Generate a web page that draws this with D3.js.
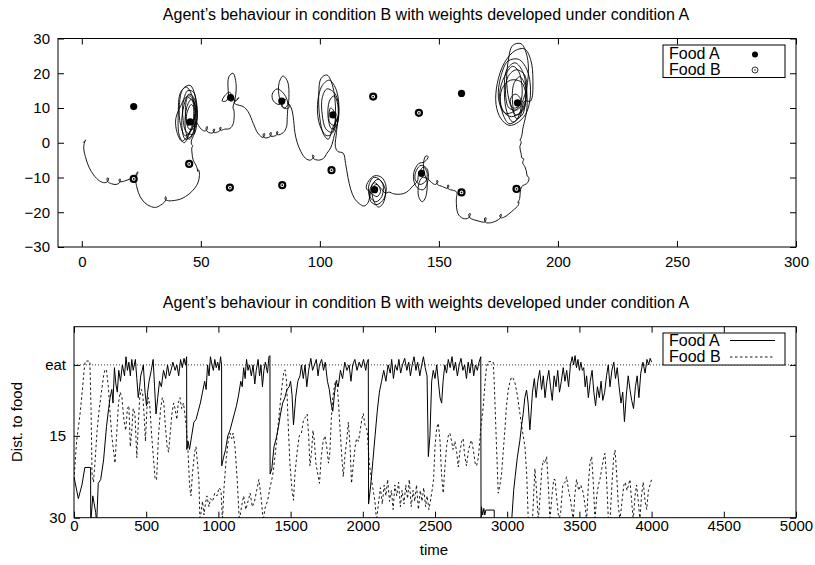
<!DOCTYPE html>
<html>
<head>
<meta charset="utf-8">
<script src="https://cdn.jsdelivr.net/npm/d3@7"></script>
<style>
	body { margin: 0; background: #fff; }
	svg text { font-family: "Liberation Sans", Arial, sans-serif; font-size: 15px; fill: #000; }
	svg text.big { font-size: 16px; }
</style>
</head>
<body>
<div id="chart"></div>
<script>

// ---- data ----

let titleText = "Agent\u2019s behaviour in condition B with weights developed under condition A";
let seriesNames = ["Food A", "Food B"];

// top plot: food positions (x, y)
let foodA = [[21.8, 10.4], [45.5, 6], [62.5, 13], [84, 12], [105.5, 8], [123, -13.5], [142.7, -8.8], [159.5, 14.2], [183, 11.5]];
let foodB = [[21.8, -10.4], [45.1, -6.1], [62.2, -12.9], [84.2, -12.2], [104.9, -7.9], [122.4, 13.3], [141.6, 8.6], [159.5, -14.3], [182.6, -13.3]];

// top plot: agent trajectory (x, y)
let trajectory = [
	[0.5, 0], [1.7, 0.8], [1.2, 0.2], [0.8, -1.5], [1.5, -4], [3, -7], [5, -9.3], [7.5, -11], [9.5, -11.5],
	[10.8, -11.2], [11.2, -10.2], [10.6, -10.2], [10.9, -11.2], [12.5, -11.8], [14.5, -12],
	[15.8, -11.5], [16.2, -10.5], [15.6, -10.6], [16, -11.2], [18, -11], [20, -10.5],
	[21.8, -10.4], [23, -9.5], [23.6, -8.4], [23.1, -8.6], [22.6, -10.3], [23.2, -13], [24.5, -15.5],
	[26.5, -17.3], [28.8, -18.3], [31, -18.6], [33, -18], [34.8, -17], [35.5, -16], [35.2, -15.5],
	[35, -16.3], [36.5, -16.7], [39, -16.6], [41.5, -16.2], [43.5, -15.5], [45.5, -14.5], [47.5, -13],
	[48.8, -11.5], [49.4, -9.5], [49.2, -8], [48.6, -7.6], [48.8, -8.3], [48, -6.5], [46.8, -5],
	[46.3, -3], [46.2, -1.5], [46.6, -0.8], [46.1, -0.5], [46, 0.5],
	// cluster around (45.5, 6)
	[48, 4], [48, 10], [46, 12.5], [44, 10], [43.5, 4], [45, 1],
	[47, 3], [48.5, 8], [47, 13], [45, 14], [43, 11], [42, 5], [43.5, 1], [46, 2],
	[47.5, 5], [47.5, 11], [44, 16], [41.5, 14.5], [40.5, 8], [41, 2], [43, 0], [45.5, 3],
	[48.3, 7], [47.8, 13], [45.5, 16.5], [42.5, 15.5], [41, 11], [41.5, 5], [43.5, 2], [46.5, 4.5],
	[47.5, 10], [45.5, 13.5], [43, 12.5], [42.5, 7], [44, 3], [47, 2.5],
	[47, 7], [46.5, 12], [44.5, 13], [43.5, 9], [44.5, 5], [46, 6],
	[47.8, 8], [47, 14.5], [44.5, 15], [42.5, 12], [39.5, 7], [40, 3], [42, 0.5], [44.5, 2],
	[47.5, 9], [46, 11], [44, 8], [45, 4], [47, 4], [48, 6], [49, 5], [50, 4],
	// to cluster around (62.5, 13)
	[51.5, 3.4], [52.4, 3.6], [52.8, 4.6], [52.2, 4.4], [52.6, 3.3], [54, 2.8], [55.2, 2.9], [55.8, 3.9],
	[55.2, 3.8], [55.6, 2.9], [57, 3.1], [57.9, 3.4], [58.5, 4.4], [57.9, 4.3], [58.3, 3.6], [60, 3.9],
	[62.2, 4.1], [63.6, 5.5], [63.9, 9.4],
	[63.5, 10], [64.5, 13], [64.8, 17], [63.5, 20], [61.8, 19], [61.5, 15], [62.5, 12], [64, 12.5],
	[62, 14.5], [60, 13.5], [59, 12], [60.5, 12], [62.5, 13.5], [64.5, 12], [66, 13], [64, 11.5], [65, 11],
	// to cluster around (84, 12)
	[67.8, 10.4], [69.9, 8.9], [72, 5.6], [74, 2.7], [76.2, 1.5], [76.8, 2.6], [76.2, 2.5], [76.6, 1.5],
	[79, 1.7], [79.6, 2.9], [79, 2.8], [79.4, 1.9], [81.8, 2.2], [82.3, 3.2], [81.8, 3.1], [82.2, 2.3],
	[84.6, 2.9], [86, 4.6], [86.3, 7.5],
	[86.5, 9.5], [87, 13], [86.5, 17.5], [84.5, 19.2], [82.8, 17], [83, 13], [85, 10], [86.5, 11],
	[85, 14], [82, 15.5], [80, 14], [80.5, 12], [83, 11], [85.5, 12.5], [84, 10.5], [86, 9.8],
	[87.5, 10.5], [86.5, 11.5], [88, 10],
	// to cluster around (105.5, 8)
	[88.8, 7.5], [89.5, 3], [90.5, 0], [92, -2.5], [94, -4.5], [96, -5], [97.5, -4], [97, -3.5],
	[97.2, -4.5], [99.5, -5], [101.5, -4.5], [103, -3], [104.5, -1.5], [105.5, 0.5], [106, 2],
	[107.5, 6], [107.5, 11], [106, 13.5], [104, 12], [103.5, 7], [105, 4], [107, 5], [108, 9],
	[106.5, 14], [103, 15.5], [101, 13], [101, 8], [102.5, 4], [105, 3], [106.5, 7], [105.5, 16],
	[103, 19.5], [100.5, 18.5], [99.5, 13], [100, 7], [101.5, 2.5], [103.5, 1], [105.5, 4.5],
	[107.8, 8], [107, 15], [104, 18], [101, 16.5], [99, 11], [100, 5], [103, 2], [106, 3.5],
	[106, 9], [104.5, 10], [104, 6], [106, 5], [107.5, 7.5], [107, 3], [106.5, -1], [107.5, -2.5],
	// to cluster around (123.5, -13.5)
	[109.8, -3], [110.8, -6], [111.8, -10], [113, -13.5], [114.5, -16], [116.5, -17.5], [118.5, -18.2],
	[120, -17.5], [121, -15.5],
	[122, -12], [124.5, -10.5], [126.5, -12], [126, -15.5], [123.5, -17], [121, -15.5], [120.5, -12.5],
	[122.5, -10], [125, -10.5], [127.5, -13.5], [126.5, -17.5], [124.5, -18.5], [122.5, -16.5],
	[122, -13], [124, -12], [125.5, -14], [124, -15.5], [121.5, -14.5], [119.5, -13], [120.5, -11],
	[123, -9.5], [126, -10], [127.8, -12.5], [127, -16], [124, -17.8], [121.5, -17], [120.8, -14],
	[123, -11.5], [125.5, -13], [127.5, -14.5], [129, -14.2], [131, -14.7],
	// to cluster around (142.7, -8.8)
	[134, -14.8], [136.5, -14.2], [139, -12.5], [141, -11],
	[141.5, -9], [143.5, -7], [145, -8.5], [144.5, -11], [142, -12], [140, -10.5], [140.5, -8],
	[142.5, -6.5], [145, -7.5], [145.5, -10.5], [143.5, -13.5], [141, -13], [139.5, -11], [139.5, -8.5],
	[141.5, -6], [144, -5.5], [145.5, -4], [144.5, -3.8], [143.5, -6], [144, -9], [145, -11],
	[144.5, -15.5], [143, -17], [141.5, -15.5], [141.5, -12], [143, -10], [145.5, -10.5], [147, -11.5],
	[148.5, -12],
	// loop down and round to cluster around (183, 12)
	[149.6, -11.2], [149.2, -10.8], [149.4, -12], [151.5, -12.6], [153.5, -13.1], [154.2, -12.3],
	[153.7, -12.2], [154, -13.3], [156, -13.7], [157.5, -14.2], [157.3, -16.5], [158, -20.4],
	[160.2, -21.8], [162.5, -21.6], [163.2, -20.4], [162.6, -20.5], [163, -21.6], [166.5, -22.5],
	[169.3, -22.8], [169.8, -21.6], [169.2, -21.7], [169.6, -22.9], [172, -23], [175.6, -21.8],
	[176.2, -20.6], [175.6, -20.8], [176, -21.6], [177.7, -21.3], [181.2, -19.4], [183.3, -18],
	[183.6, -17], [183.1, -17.2], [183.8, -16.4], [184, -15.6], [184.7, -12.7], [187.3, -11.5],
	[187.8, -10], [187.1, -9.6], [186.8, -8.4], [186.1, -6.9], [185.2, -5.8], [185.6, -4.6],
	[184.9, -4.4], [184.5, -3], [184, -1.2], [184.6, 0.3], [184.1, 0.6], [184.7, 1.7], [185.4, 4.6],
	[186.1, 6.5],
	[187, 10], [186.5, 16], [184, 19], [181.5, 17], [181, 11], [182.5, 7], [185, 8], [186.5, 13],
	[185.5, 20], [182, 23], [178.5, 21], [177.5, 15], [178.5, 9], [181, 6], [184, 7.5], [186, 12],
	[188.5, 12], [189.5, 18], [188.5, 24], [186, 27], [182, 26.5], [177.5, 23], [174.5, 17], [174, 11],
	[176, 7], [179.5, 5], [183.5, 6], [187, 9], [188.5, 15], [187, 21], [183.5, 24], [179, 23.5],
	[176, 19], [175, 13], [177, 9], [180.5, 7.5], [184.5, 9], [186.8, 14], [186, 19.5], [182.5, 21],
	[179, 19], [178, 14], [179.5, 10], [183, 9.5], [185.5, 12.5],
	[187.5, 19], [187, 25], [184.5, 28.5], [181, 28], [179, 23], [178.5, 17], [180, 11], [182.5, 8],
	[185.5, 9.5], [186.5, 14], [184.5, 17.5], [180, 18], [176.5, 15.5], [176, 11], [178, 8.5],
	[181.5, 9], [184, 11], [185, 15], [183.5, 20.5], [181, 22], [177.5, 19], [175.5, 14], [177, 8],
	[179.5, 5.5], [182.5, 6.5], [184.5, 10], [184, 13], [182, 14], [180, 12.5], [181, 10],
	[183.5, 10.5], [184.5, 12]
];

// bottom plot: distance to food over time (time, distance)
let foodATrace = [
	[0, 22.5], [30, 26.5], [55, 24], [75, 20.8], [115, 20.8], [116, 31], [130, 26], [150, 29], [157, 31],
	[168, 23.7], [185, 23], [205, 19.4], [225, 13.3], [240, 10], [250, 8], [262, 6.5], [270, 9],
	[280, 2.5], [290, 5.5], [300, 7], [310, 3], [322, 5], [335, 2], [350, 4], [360, 0.5], [370, 3],
	[380, 1.5], [390, 4], [400, 1], [410, 3], [425, 1], [435, 4.5], [445, 8], [455, 6], [462, 4],
	[472, 3], [480, 2], [492, 7], [502, 9.5], [510, 7], [520, 5], [535, 3], [548, 1], [558, 6],
	[568, 11], [580, 8], [592, 5], [605, 6], [620, 3], [635, 4.5], [648, 2], [660, 4], [672, 3],
	[685, 1.5], [700, 3], [712, 2], [725, 4], [738, 1], [750, 2.5], [762, 0.8], [772, 2], [780, 0.5],
	[781, 17.5], [790, 16], [800, 17.5], [815, 15], [830, 12.5], [845, 12], [860, 10.5], [875, 9],
	[890, 7], [905, 5], [915, 6.5], [925, 2], [935, 4], [945, 0.5], [955, 2], [965, 3], [975, 1],
	[985, 2.5], [995, 1.5], [1005, 3], [1015, 0.5], [1022, 2], [1023, 20.5], [1035, 19], [1050, 17.5],
	[1065, 15], [1080, 14], [1095, 12.5], [1110, 11], [1125, 9.5], [1140, 7.5], [1155, 5], [1165, 6],
	[1175, 2.5], [1185, 4.5], [1195, 1], [1205, 3], [1215, 2], [1228, 4], [1240, 2], [1252, 5.5],
	[1262, 3], [1275, 1], [1285, 4], [1295, 2], [1305, 6], [1315, 3], [1325, 1.5], [1340, 3.5],
	[1350, 0.5], [1357, 0.3], [1358, 22], [1370, 21], [1385, 17], [1400, 15.5], [1415, 13.5],
	[1430, 11], [1445, 9], [1460, 8], [1475, 6.5], [1490, 6], [1500, 5], [1510, 7.5], [1520, 13],
	[1535, 8], [1550, 5], [1565, 4], [1575, 2], [1588, 4.5], [1600, 2], [1612, 6], [1625, 3],
	[1640, 0.8], [1652, 3], [1665, 2], [1678, 1], [1690, 4], [1700, 2], [1715, 1], [1728, 3],
	[1740, 1.5], [1755, 5], [1768, 6.5], [1780, 9], [1792, 10.5], [1805, 7], [1815, 5], [1830, 6],
	[1845, 3], [1860, 4.5], [1875, 1.5], [1890, 3], [1905, 2], [1918, 5], [1930, 2], [1945, 1],
	[1960, 3], [1975, 1.5], [1990, 2.5], [2005, 1], [2020, 3], [2030, 1.5], [2038, 1], [2040, 27.5],
	[2055, 24], [2070, 19.5], [2085, 15], [2100, 10.5], [2115, 7], [2130, 5], [2145, 3], [2160, 5],
	[2175, 2], [2190, 3.5], [2200, 1], [2212, 4.5], [2225, 2], [2238, 3], [2250, 1], [2262, 3.5],
	[2275, 2], [2290, 0.8], [2305, 3], [2318, 1.5], [2330, 4], [2342, 2], [2355, 0.5], [2368, 3],
	[2380, 1.5], [2395, 4], [2408, 2], [2420, 0.5], [2432, 2.5], [2445, 4], [2454, 18.8], [2465, 15],
	[2477, 5], [2488, 3], [2500, 4.5], [2512, 2], [2525, 5.5], [2535, 8], [2546, 9], [2556, 5],
	[2568, 2], [2580, 3.5], [2592, 1], [2605, 2.5], [2618, 0.5], [2630, 3], [2642, 1.5], [2655, 4],
	[2668, 2], [2680, 0.8], [2693, 3], [2705, 2], [2718, 4.5], [2730, 1.5], [2742, 3.5], [2755, 1],
	[2768, 4], [2780, 2], [2793, 3], [2805, 1.5], [2817, 0.5], [2819, 31], [2822, 28], [2830, 29.5],
	[2838, 28.3], [2845, 29.5], [2852, 28.6], [2910, 28.6], [2911, 33], [3000, 33], [3031, 30.5],
	[3045, 25], [3055, 22.5], [3070, 19], [3088, 15.8], [3100, 13], [3111, 10.9], [3122, 8],
	[3134, 6.6], [3145, 9], [3157, 13.9], [3165, 11], [3175, 7], [3188, 4.5], [3200, 8], [3212, 5],
	[3225, 3], [3238, 6.5], [3250, 4], [3262, 8], [3275, 5], [3288, 3], [3300, 6], [3312, 8.5],
	[3325, 4], [3338, 6], [3350, 3], [3362, 7], [3375, 5], [3388, 2.5], [3400, 5], [3412, 3],
	[3425, 6], [3438, 2], [3450, 0.5], [3460, 2], [3470, 0.3], [3480, 2.5], [3490, 1], [3500, 3],
	[3510, 1.5], [3520, 3], [3530, 2.5], [3540, 6], [3550, 4], [3562, 8], [3575, 5], [3588, 3],
	[3600, 7], [3612, 9.5], [3625, 6], [3638, 8], [3650, 5], [3662, 8.5], [3675, 7], [3688, 4],
	[3700, 2], [3712, 6], [3725, 3], [3738, 1.5], [3750, 4.5], [3762, 2.5], [3775, 6], [3788, 9],
	[3800, 7], [3812, 12.4], [3825, 7.5], [3838, 4], [3850, 6.5], [3862, 8.5], [3875, 10], [3888, 6],
	[3900, 4], [3912, 8], [3925, 3.5], [3940, 1.5], [3955, 3.5], [3968, 1], [3980, 2], [3990, 0.8],
	[4000, 1.5]
];

let foodBTrace = [
	[0, 23], [18, 16], [42, 11], [60, 6], [70, 3], [78, 1.3], [110, 1.3], [118, 10], [125, 22],
	[135, 23.5], [145, 20], [160, 14], [175, 10], [190, 7], [205, 4], [215, 2.8], [225, 3], [238, 6],
	[250, 11], [262, 15], [275, 18], [284, 20], [295, 15], [308, 9], [320, 7], [332, 8], [345, 12],
	[358, 14], [370, 10], [380, 9.5], [390, 17], [400, 14], [410, 10], [422, 11], [435, 19], [445, 13],
	[455, 8], [465, 6.5], [475, 7], [485, 11], [495, 16], [505, 10], [515, 8], [525, 9.5], [538, 15],
	[550, 19], [562, 23], [572, 23], [585, 15], [600, 10], [612, 8], [622, 9], [632, 13], [645, 17],
	[655, 18], [665, 15], [678, 11], [690, 9], [700, 10], [712, 12], [722, 9], [734, 8], [745, 10],
	[758, 9], [768, 11], [780, 14], [790, 18], [800, 24], [810, 26], [820, 22], [835, 18], [845, 17],
	[855, 20], [865, 23], [872, 30.5], [880, 29], [890, 27], [900, 29.5], [910, 27.5], [920, 26],
	[935, 28], [945, 26.5], [960, 27], [975, 25.5], [990, 26], [1005, 24.5], [1018, 25], [1028, 30.5],
	[1040, 24], [1055, 19], [1068, 16], [1080, 14.5], [1092, 15.5], [1102, 14.5], [1115, 17],
	[1130, 23], [1145, 30.5], [1160, 28], [1175, 26], [1190, 28.5], [1205, 27], [1220, 25.5],
	[1235, 28], [1250, 27], [1265, 25], [1280, 23], [1295, 26], [1310, 30.5], [1325, 28], [1340, 27],
	[1357, 24.5], [1370, 23], [1380, 21.5], [1395, 18], [1410, 14], [1426, 9.7], [1440, 6],
	[1452, 3.5], [1462, 2.9], [1472, 5], [1482, 12], [1495, 20], [1510, 25], [1520, 26.8], [1530, 22],
	[1545, 18], [1560, 15], [1575, 14.5], [1590, 12], [1605, 11.5], [1615, 11], [1625, 15],
	[1634, 20.5], [1645, 18], [1655, 14], [1665, 16], [1675, 20], [1688, 22], [1700, 23.7],
	[1712, 19], [1725, 16], [1738, 15], [1750, 17], [1762, 20], [1772, 18], [1782, 12], [1792, 8],
	[1800, 6.5], [1810, 5], [1820, 4.8], [1832, 9], [1845, 15], [1855, 19], [1865, 22.5], [1875, 19],
	[1888, 16], [1900, 12.5], [1912, 17], [1922, 23.7], [1935, 20], [1947, 17], [1957, 15.5],
	[1970, 16], [1982, 14], [1993, 12], [2003, 10.9], [2015, 13], [2030, 14], [2045, 20], [2060, 23],
	[2075, 25.5], [2084, 27], [2095, 30.5], [2110, 27], [2122, 24.5], [2135, 27.5], [2148, 24],
	[2160, 26], [2172, 23], [2185, 27], [2198, 25], [2210, 28.5], [2222, 24], [2235, 26], [2248, 23.5],
	[2260, 28], [2272, 25], [2285, 27.5], [2298, 24], [2310, 26.5], [2322, 23], [2335, 28], [2348, 25],
	[2360, 27], [2372, 24], [2385, 28.5], [2398, 25], [2410, 27], [2422, 24.5], [2435, 28], [2445, 26],
	[2458, 28.5], [2468, 27], [2480, 25], [2490, 23], [2500, 17], [2512, 13.5], [2523, 12.7],
	[2535, 16], [2545, 22], [2557, 25.5], [2568, 21], [2580, 17], [2592, 15], [2603, 14.5], [2615, 16],
	[2625, 17.5], [2638, 16], [2650, 18], [2661, 20.7], [2672, 18], [2685, 16], [2695, 15.5],
	[2705, 18.5], [2718, 20.5], [2730, 18], [2742, 16.5], [2753, 15.8], [2765, 17.5], [2778, 20],
	[2788, 20.5], [2800, 19], [2810, 16], [2818, 13.3], [2826, 11.5], [2834, 9.7], [2846, 5.4],
	[2857, 2.3], [2869, 1.4], [2903, 1.4], [2910, 5], [2918, 11], [2926, 17], [2938, 25.5], [2950, 24],
	[2961, 22], [2972, 18], [2984, 13.9], [2995, 9.5], [3007, 6.6], [3020, 5], [3031, 4.2], [3042, 4.5],
	[3054, 5.3], [3070, 7.5], [3088, 10.9], [3105, 14], [3123, 17], [3135, 22], [3146, 30.5],
	[3160, 31], [3175, 30.5], [3192, 21], [3203, 25], [3215, 30.5], [3228, 26], [3240, 21],
	[3250, 19.5], [3262, 20], [3273, 18.8], [3285, 24], [3296, 30.5], [3310, 26], [3322, 23],
	[3331, 23], [3345, 27], [3358, 30.5], [3370, 29], [3385, 24], [3400, 23.5], [3411, 22.5],
	[3425, 25], [3440, 27], [3457, 30.5], [3468, 26], [3480, 23], [3495, 25], [3510, 24], [3527, 25.5],
	[3540, 28], [3550, 30.5], [3562, 24], [3573, 20], [3585, 18.8], [3597, 24], [3608, 30.5],
	[3620, 26], [3632, 24], [3642, 23], [3655, 21], [3668, 19], [3677, 18.2], [3690, 24], [3700, 30],
	[3712, 30.5], [3725, 24], [3737, 19], [3747, 17.6], [3758, 22], [3770, 28], [3781, 30.5],
	[3795, 27], [3808, 24], [3817, 23.5], [3830, 25], [3840, 24], [3850, 23], [3862, 27], [3873, 30.5],
	[3885, 26], [3896, 24], [3908, 27], [3919, 30.5], [3930, 26], [3942, 23.5], [3955, 27],
	[3966, 28.5], [3978, 25], [3989, 24], [4000, 23]
];

let eatLevel = 2;
let topXTicks = [0, 50, 100, 150, 200, 250, 300];
let topYTicks = [-30, -20, -10, 0, 10, 20, 30];
let bottomXTicks = [0, 500, 1000, 1500, 2000, 2500, 3000, 3500, 4000, 4500, 5000];
let bottomYTicks = [eatLevel, 15, 30];
let bottomYLabels = ["eat", "15", "30"];

// ---- drawing ----

let svg = d3.select("#chart").append("svg")
	.attr("width", 815)
	.attr("height", 565);

let tickLen = 6;

function frameAxes(g, x, y, w, h, xTicks, yTicks, yFormat, xPad) {
	g.append("g")
		.attr("transform", "translate(0," + h + ")")
		.call(d3.axisBottom(x).tickValues(xTicks).tickSize(-tickLen).tickPadding(xPad).tickFormat(d3.format("d")))
		.call(a => a.select(".domain").remove());
	g.append("g")
		.call(d3.axisTop(x).tickValues(xTicks).tickSize(-tickLen).tickFormat(""))
		.call(a => a.select(".domain").remove());
	g.append("g")
		.call(d3.axisLeft(y).tickValues(yTicks).tickSize(-tickLen).tickPadding(8).tickFormat(yFormat))
		.call(a => a.select(".domain").remove());
	g.append("g")
		.attr("transform", "translate(" + w + ",0)")
		.call(d3.axisRight(y).tickValues(yTicks).tickSize(-tickLen).tickFormat(""))
		.call(a => a.select(".domain").remove());
	g.selectAll(".tick line").attr("stroke", "#000");
	g.selectAll(".tick text")
		.style("font-family", "Liberation Sans, Arial, sans-serif")
		.style("font-size", "15px");
	g.append("rect")
		.attr("width", w)
		.attr("height", h)
		.attr("fill", "none")
		.attr("stroke", "#000");
}

// top plot
let topBox = {left: 58, top: 38.5, width: 738, height: 208.5};
let gTop = svg.append("g").attr("transform", "translate(" + topBox.left + "," + topBox.top + ")");

let xTop = d3.scaleLinear().domain([-10, 300]).range([0, topBox.width]);
let yTop = d3.scaleLinear().domain([-30, 30]).range([topBox.height, 0]);

svg.append("text")
	.attr("class", "big")
	.attr("x", 426)
	.attr("y", 20)
	.attr("text-anchor", "middle")
	.text(titleText);

frameAxes(gTop, xTop, yTop, topBox.width, topBox.height, topXTicks, topYTicks, d3.format("d"), 9);

gTop.append("path")
	.datum(trajectory)
	.attr("fill", "none")
	.attr("stroke", "#000")
	.attr("stroke-width", 0.9)
	.attr("d", d3.line().x(d => xTop(d[0])).y(d => yTop(d[1])).curve(d3.curveCatmullRom.alpha(0.5)));

gTop.selectAll(".foodA")
	.data(foodA)
	.enter()
	.append("circle")
	.attr("class", "foodA")
	.attr("cx", d => xTop(d[0]))
	.attr("cy", d => yTop(d[1]))
	.attr("r", 3.6)
	.attr("fill", "#000");

gTop.selectAll(".foodB")
	.data(foodB)
	.enter()
	.append("circle")
	.attr("class", "foodB")
	.attr("cx", d => xTop(d[0]))
	.attr("cy", d => yTop(d[1]))
	.attr("r", 3)
	.attr("fill", "#fff")
	.attr("stroke", "#000")
	.attr("stroke-width", 2.2);

gTop.selectAll(".foodBdot")
	.data(foodB)
	.enter()
	.append("circle")
	.attr("class", "foodBdot")
	.attr("cx", d => xTop(d[0]))
	.attr("cy", d => yTop(d[1]))
	.attr("r", 0.9)
	.attr("fill", "#000");

// top legend
let legTop = svg.append("g").attr("transform", "translate(663,45)");
legTop.append("rect")
	.attr("width", 122)
	.attr("height", 32.5)
	.attr("fill", "#fff")
	.attr("stroke", "#000");
legTop.selectAll("text")
	.data(seriesNames)
	.enter()
	.append("text")
	.attr("class", "big")
	.attr("x", 6)
	.attr("y", (d, i) => 14 + i * 15.5)
	.text(d => d);
legTop.append("circle").attr("cx", 92).attr("cy", 9.5).attr("r", 3).attr("fill", "#000");
legTop.append("circle").attr("cx", 92).attr("cy", 25).attr("r", 3).attr("fill", "#fff").attr("stroke", "#000").attr("stroke-width", 0.8);
legTop.append("circle").attr("cx", 92).attr("cy", 25).attr("r", 0.7).attr("fill", "#000");

// bottom plot
let botBox = {left: 74, top: 326.7, width: 722, height: 191};
let gBot = svg.append("g").attr("transform", "translate(" + botBox.left + "," + botBox.top + ")");

let xBot = d3.scaleLinear().domain([0, 5000]).range([0, botBox.width]);
let yBot = d3.scaleLinear().domain([-5, 30]).range([0, botBox.height]);

svg.append("text")
	.attr("class", "big")
	.attr("x", 426)
	.attr("y", 308)
	.attr("text-anchor", "middle")
	.text(titleText);

svg.append("defs").append("clipPath")
	.attr("id", "clipBot")
	.append("rect")
	.attr("width", botBox.width)
	.attr("height", botBox.height);

let yLabel = d3.scaleOrdinal().domain(bottomYTicks).range(bottomYLabels);
frameAxes(gBot, xBot, yBot, botBox.width, botBox.height, bottomXTicks, bottomYTicks, d => yLabel(d), 3);

let plotBot = gBot.append("g").attr("clip-path", "url(#clipBot)");

plotBot.append("line")
	.attr("x1", 0)
	.attr("x2", botBox.width)
	.attr("y1", yBot(eatLevel))
	.attr("y2", yBot(eatLevel))
	.attr("stroke", "#000")
	.attr("stroke-width", 0.8)
	.attr("stroke-dasharray", "1,2");

let lineBot = d3.line().x(d => xBot(d[0])).y(d => yBot(d[1]));

plotBot.append("path")
	.datum(foodBTrace)
	.attr("fill", "none")
	.attr("stroke", "#000")
	.attr("stroke-width", 0.9)
	.attr("stroke-dasharray", "2.5,2.5")
	.attr("d", lineBot);

plotBot.append("path")
	.datum(foodATrace)
	.attr("fill", "none")
	.attr("stroke", "#000")
	.attr("stroke-width", 1)
	.attr("d", lineBot);

// bottom legend
let legBot = svg.append("g").attr("transform", "translate(663,333)");
legBot.append("rect")
	.attr("width", 122)
	.attr("height", 32)
	.attr("fill", "#fff")
	.attr("stroke", "#000");
legBot.selectAll("text")
	.data(seriesNames)
	.enter()
	.append("text")
	.attr("class", "big")
	.attr("x", 6)
	.attr("y", (d, i) => 13 + i * 15.5)
	.text(d => d);
legBot.append("line").attr("x1", 67).attr("x2", 112).attr("y1", 7.5).attr("y2", 7.5).attr("stroke", "#000");
legBot.append("line").attr("x1", 67).attr("x2", 112).attr("y1", 24).attr("y2", 24)
	.attr("stroke", "#000").attr("stroke-width", 0.9).attr("stroke-dasharray", "2.5,2.5");

// axis titles
svg.append("text")
	.attr("transform", "translate(22,422) rotate(-90)")
	.attr("text-anchor", "middle")
	.text("Dist. to food");

svg.append("text")
	.attr("x", 434)
	.attr("y", 555)
	.attr("text-anchor", "middle")
	.text("time");

</script>
</body>
</html>
